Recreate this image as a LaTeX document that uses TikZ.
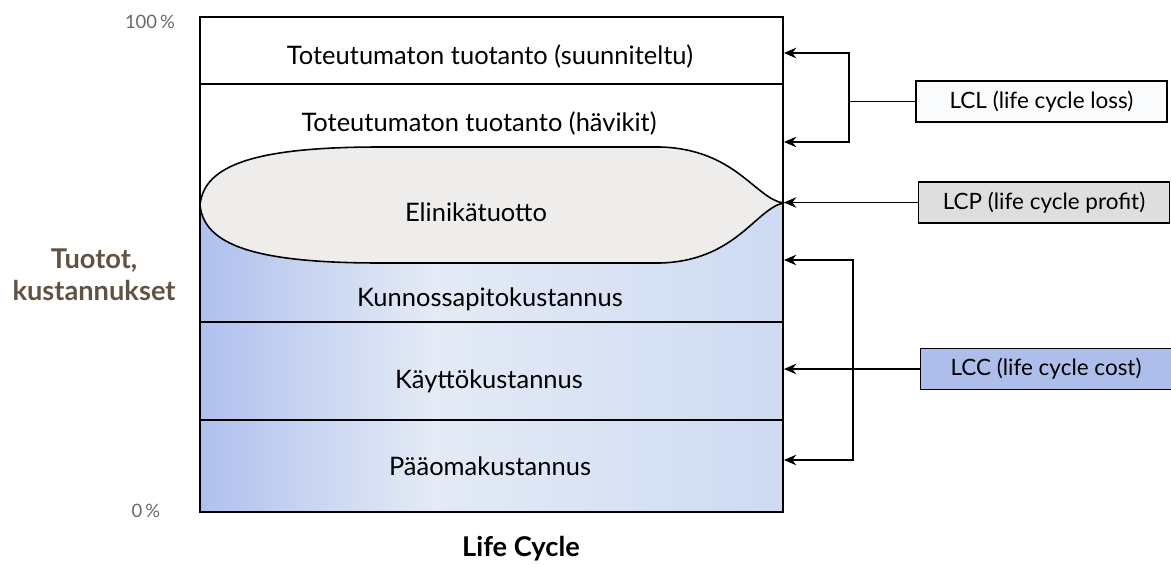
\documentclass[tikz,border=0pt]{standalone}
\usepackage{fontspec}
\setmainfont{Lato}
\usepackage{tikz}
\usetikzlibrary{arrows.meta}
\definecolor{skyL}{RGB}{176,192,238}
\definecolor{skyM}{RGB}{228,235,246}
\definecolor{skyR}{RGB}{206,218,242}
\definecolor{profitfill}{RGB}{238,237,235}
\definecolor{lclfill}{RGB}{250,251,253}
\definecolor{lcpfill}{RGB}{222,222,222}
\definecolor{lccfill}{RGB}{174,190,234}
\definecolor{axisbrown}{RGB}{98,82,66}
\definecolor{pctgray}{RGB}{105,105,105}
\pgfdeclarehorizontalshading{lcsky}{100bp}{color(0bp)=(skyL); color(25bp)=(skyL); color(45bp)=(skyM); color(75bp)=(skyR); color(100bp)=(skyR)}
\tikzstyle{band} = [font=\fontsize{14.5}{17}\selectfont, inner sep=0pt]
\tikzstyle{pct} = [font=\fontsize{10.5}{12}\selectfont, text=pctgray, inner sep=0pt]
\tikzstyle{axislabel} = [font=\bfseries\fontsize{15.5}{18}\selectfont, align=center, inner sep=0pt]
\tikzstyle{lcbox} = [rectangle, draw=black, line width=0.9pt, minimum width=5.02cm, minimum height=0.82cm, inner sep=0pt, font=\fontsize{12.8}{15}\selectfont]
\tikzstyle{lclbox} = [lcbox, fill=lclfill]
\tikzstyle{lcpbox} = [lcbox, fill=lcpfill]
\tikzstyle{lccbox} = [lcbox, fill=lccfill]
\tikzstyle{link} = [draw=black, line width=0.8pt]
\tikzstyle{feed} = [link, -{Stealth[length=7pt,width=6pt]}]

\begin{document}
\begin{tikzpicture}[x=0.02cm, y=-0.02cm]
\useasboundingbox (0,0) rectangle (1171,565);
% Stacked life cycle column, pixel coordinates (y down)
\shade[shading=lcsky] (200,204) rectangle (783,512);
% Life cycle profit lens
\filldraw[fill=profitfill, line width=0.9pt] (200,205)
  .. controls (204,165) and (255,147) .. (380,147) -- (660,147)
  .. controls (735,149) and (755,198) .. (783,203)
  .. controls (755,210) and (735,261) .. (660,263) -- (380,263)
  .. controls (255,263) and (204,245) .. (200,205);
% Column outline and band borders
\draw[line width=1pt] (200,17) rectangle (783,512);
\draw[line width=1pt] (200,84) -- (783,84);
\draw[line width=1pt] (200,322) -- (783,322);
\draw[line width=1pt] (200,420) -- (783,420);
% Band texts
\node[band] (plan) at (490,56) {Toteutumaton tuotanto (suunniteltu)};
\node[band] (loss) at (479,123) {Toteutumaton tuotanto (hävikit)};
\node[band] (profit) at (476,212) {Elinikätuotto};
\node[band] (upkeep) at (490,299) {Kunnossapitokustannus};
\node[band] (running) at (489,381) {Käyttökustannus};
\node[band] (capital) at (490,466) {Pääomakustannus};
% Axis texts
\node[pct] (pct100) at (150,22) {100\,\%};
\node[pct] (pct0) at (146,511) {0\,\%};
\node[axislabel, text=axisbrown] (yaxis) at (94,275) {Tuotot,\\kustannukset};
\node[axislabel] (xaxis) at (521,549) {Life Cycle};
% Right hand boxes
\node[lclbox] (lcl) at (1041.5,101.5) {LCL (life cycle loss)};
\node[lcpbox] (lcp) at (1044,202.5) {LCP (life cycle profit)};
\node[lccbox] (lcc) at (1046,369) {LCC (life cycle cost)};
% Arrow targets on the column edge
\coordinate (lcl-in1) at (784,53);
\coordinate (lcl-in2) at (784,142);
\coordinate (lcl-bar) at (849,101.5);
\coordinate (lcp-in) at (784,202.5);
\coordinate (lcc-in1) at (784,260);
\coordinate (lcc-in2) at (784,369);
\coordinate (lcc-in3) at (784,460);
\coordinate (lcc-bar) at (853,369);
% LCL bracket
\draw[link] (lcl.west) -- (lcl-bar);
\draw[feed] (lcl-bar) |- (lcl-in1);
\draw[feed] (lcl-bar) |- (lcl-in2);
% LCP arrow
\draw[feed] (lcp.west) -- (lcp-in);
% LCC bracket
\draw[feed] (lcc-bar) |- (lcc-in1);
\draw[feed] (lcc-bar) |- (lcc-in3);
\draw[feed] (lcc.west) -- (lcc-in2);
\end{tikzpicture}
\end{document}
